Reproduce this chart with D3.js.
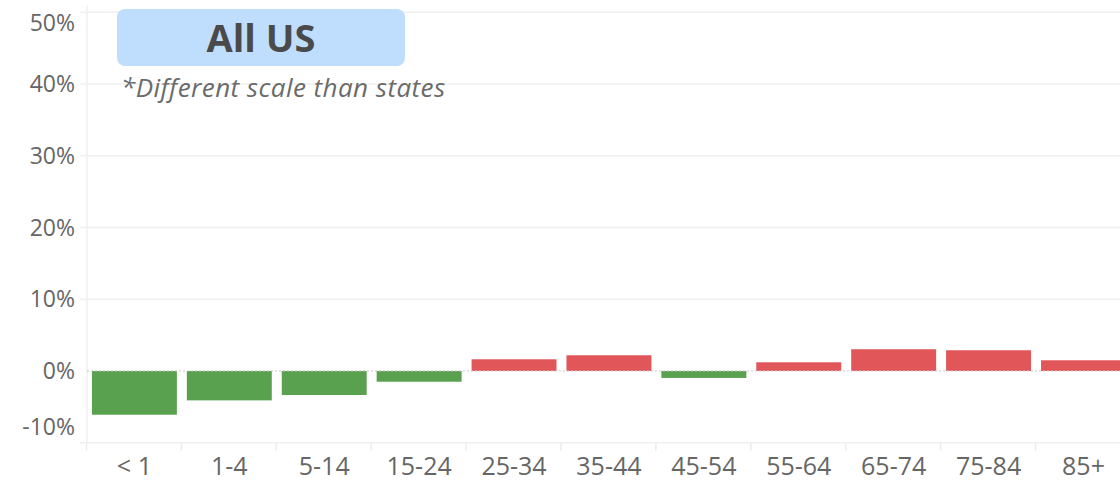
<!DOCTYPE html>
<html lang="en">
<head>
<meta charset="UTF-8">
<title>All US</title>
<script src="https://d3js.org/d3.v7.min.js"></script>
<style>
  body { margin: 0; background: #fff; }
  text { font-family: "Open Sans", Lato, sans-serif; }
</style>
</head>
<body>
<div class="canvas"></div>
<script>
// data
const ageGroups = ['< 1', '1-4', '5-14', '15-24', '25-34', '35-44', '45-54', '55-64', '65-74', '75-84', '85+']
const changes = [-0.061, -0.041, -0.0335, -0.015, 0.0163, 0.0219, -0.0097, 0.0121, 0.0303, 0.0289, 0.0149]
const yTicks = [-0.1, 0, 0.1, 0.2, 0.3, 0.4, 0.5]

const width = 1120
const height = 481
const ml = 87, plotTop = 12.3, plotBottom = 442.7

const svg = d3.select('.canvas')
  .append('svg')
  .attr('width', width)
  .attr('height', height)

const x = d3.scaleBand()
  .domain(ageGroups)
  .range([ml, ml + 11 * 94.9])
  .paddingInner(0.105)
  .paddingOuter(0.052)

const y = d3.scaleLinear()
  .domain([-0.1, 0.5])
  .range([plotBottom, plotTop])

// gridlines
svg.append('g')
  .selectAll('line')
  .data(yTicks.filter(d => d !== 0 && d !== -0.1))
  .enter().append('line')
  .attr('x1', 80).attr('x2', width)
  .attr('y1', d => y(d)).attr('y2', d => y(d))
  .attr('stroke', '#f0f0f0')
  .attr('stroke-width', 1.5)

// left line & bottom axis line
svg.append('line')
  .attr('x1', ml).attr('x2', ml)
  .attr('y1', 5).attr('y2', plotBottom)
  .attr('stroke', '#f0f0f0').attr('stroke-width', 1.5)
svg.append('line')
  .attr('x1', 80).attr('x2', width)
  .attr('y1', plotBottom).attr('y2', plotBottom)
  .attr('stroke', '#f0f0f0').attr('stroke-width', 1.5)

// band separators
const step = x.step()
svg.append('g')
  .selectAll('line')
  .data(ageGroups)
  .enter().append('line')
  .attr('x1', d => x(d) - step * 0.0525 - 0.5)
  .attr('x2', d => x(d) - step * 0.0525 - 0.5)
  .attr('y1', plotBottom).attr('y2', plotBottom + 8)
  .attr('stroke', '#ececec').attr('stroke-width', 1.5)

// y labels (Tableau keeps end labels inside the pane)
const pct = d => d3.format('.0%')(d).replace('\u2212', '-')
svg.append('g')
  .selectAll('text')
  .data(yTicks)
  .enter().append('text')
  .attr('x', 75)
  .attr('y', d => Math.max(plotTop + 11, Math.min(plotBottom - 16, y(d))))
  .attr('dy', '0.35em')
  .attr('text-anchor', 'end')
  .attr('fill', '#666')
  .style('font-size', '23px')
  .text(pct)

// bars
svg.append('g')
  .selectAll('rect')
  .data(changes)
  .enter().append('rect')
  .attr('x', (d, i) => x(ageGroups[i]))
  .attr('width', x.bandwidth())
  .attr('y', d => y(Math.max(0, d)))
  .attr('height', d => Math.abs(y(d) - y(0)))
  .attr('fill', d => d < 0 ? '#59a14f' : '#e15759')

// zero line
svg.append('line')
  .attr('x1', ml).attr('x2', width)
  .attr('y1', y(0)).attr('y2', y(0))
  .attr('stroke', '#c8c8c8')
  .attr('stroke-dasharray', '2,2')
  .attr('stroke-width', 1)

// x labels
svg.append('g')
  .selectAll('text')
  .data(ageGroups)
  .enter().append('text')
  .attr('x', d => x(d) + x.bandwidth() / 2)
  .attr('y', 475)
  .attr('text-anchor', 'middle')
  .attr('fill', '#666')
  .style('font-size', '25px')
  .text(d => d)

// title box
svg.append('rect')
  .attr('x', 117).attr('y', 9)
  .attr('width', 288).attr('height', 57)
  .attr('rx', 8)
  .attr('fill', '#bfdefd')
svg.append('text')
  .attr('x', 261).attr('y', 52)
  .attr('text-anchor', 'middle')
  .attr('fill', '#4a4a4a')
  .style('font-size', '38px')
  .style('font-weight', 'bold')
  .text('All US')
svg.append('text')
  .attr('x', 121).attr('y', 97)
  .attr('fill', '#6b6b6b')
  .style('font-size', '26px')
  .style('letter-spacing', '0.45px')
  .style('font-style', 'italic')
  .text('*Different scale than states')
</script>
</body>
</html>
